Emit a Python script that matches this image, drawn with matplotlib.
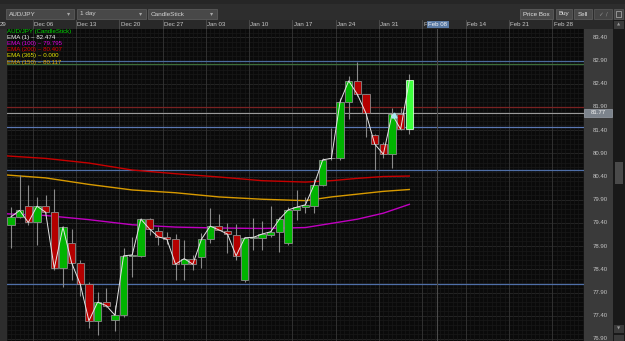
import matplotlib
matplotlib.use('Agg')
import matplotlib.pyplot as plt
from matplotlib.patches import Rectangle
import numpy as np

plt.rcParams['font.family'] = ['Liberation Sans', 'DejaVu Sans']

W, H = 625, 341

# Daily candles AUD/JPY
opens = [79.36, 79.53, 79.76, 79.41, 79.76, 79.63, 78.42, 78.97, 78.54, 78.08,
         77.29, 77.69, 77.30, 77.41, 78.69, 78.69, 79.48, 79.23, 79.10, 79.05,
         78.51, 78.63, 78.66, 79.05, 79.33, 79.23, 79.15, 78.17, 79.08, 79.08,
         79.15, 79.20, 78.97, 79.68, 79.74, 79.77, 80.22, 80.79, 80.79, 82.01,
         82.46, 82.17, 81.29, 81.10, 80.88, 81.74, 81.42]
highs = [79.75, 80.43, 80.22, 79.96, 80.00, 80.13, 79.33, 79.27, 78.59, 78.13,
         77.92, 78.00, 77.63, 78.87, 79.10, 79.51, 79.51, 79.32, 79.20, 79.16,
         79.03, 78.71, 79.18, 79.72, 79.59, 79.40, 79.38, 79.09, 79.51, 79.44,
         79.76, 79.53, 79.75, 80.12, 79.96, 80.34, 80.80, 81.44, 82.10, 82.57,
         82.87, 82.18, 81.32, 81.14, 81.88, 81.88, 82.61]
lows = [78.86, 79.51, 79.35, 78.92, 79.61, 78.39, 78.02, 78.17, 77.83, 77.13,
        76.98, 77.59, 77.08, 77.37, 78.24, 78.67, 79.14, 78.92, 78.95, 78.17,
        78.17, 78.39, 78.43, 78.97, 79.24, 78.75, 78.60, 78.13, 78.82, 78.82,
        79.10, 78.78, 78.92, 79.46, 79.61, 79.61, 80.20, 80.76, 80.76, 81.65,
        82.13, 81.26, 80.54, 80.80, 80.58, 81.40, 81.31]
closes = [79.53, 79.67, 79.41, 79.76, 79.63, 78.42, 79.31, 78.54, 78.08, 77.29,
          77.69, 77.62, 77.41, 78.69, 78.71, 79.48, 79.27, 79.10, 79.05, 78.51,
          78.63, 78.51, 79.05, 79.33, 79.25, 79.16, 78.69, 79.08, 79.09, 79.16,
          79.21, 79.48, 79.68, 79.74, 79.79, 80.22, 80.76, 80.79, 82.01, 82.46,
          82.17, 81.76, 81.10, 80.88, 81.74, 81.42, 82.47]

# moving averages sampled at a few candles
ema_idx = [-1, 4, 9, 14, 19, 24, 29, 34, 37, 40, 43, 46]
ema100 = [79.60, 79.56, 79.47, 79.36, 79.31, 79.29, 79.28, 79.30, 79.39, 79.48, 79.61, 79.80]
ema150 = [80.44, 80.37, 80.23, 80.11, 80.05, 79.96, 79.91, 79.88, 79.96, 80.02, 80.08, 80.12]
ema200 = [80.85, 80.79, 80.69, 80.54, 80.46, 80.39, 80.31, 80.28, 80.31, 80.36, 80.40, 80.41]

# week labels as shown (the Feb 07 one is hidden under the cursor label)
week_labels = ['Nov 29', 'Dec 06', 'Dec 13', 'Dec 20', 'Dec 27', 'Jan 03', 'Jan 10',
               'Jan 17', 'Jan 24', 'Jan 31', 'F', 'Feb 14', 'Feb 21', 'Feb 28']
cursor_date = 'Feb 08'
price_ticks = [83.40, 82.90, 82.40, 81.90, 81.40, 80.90, 80.40, 79.90,
               79.40, 78.90, 78.40, 77.90, 77.40, 76.90]

# drawn horizontal lines (price, colour)
h_levels = [82.89, 82.83, 81.90, 81.46, 80.54, 78.08]
h_colors = ['#4a6a9c', '#3c6e3c', '#7a2222', '#5a78b4', '#4f6fa8', '#4f6fa8']

cursor_price = 81.77
cursor_idx = 49.2
marker_idx, marker_price = 44.2, 81.72

legend = [('AUD/JPY (CandleStick)', '#00d800'),
          ('EMA (1) ~ 82.474', '#f0f0f0'),
          ('EMA (100) ~ 79.795', '#e000e0'),
          ('EMA (200) ~ 80.407', '#e00000'),
          ('EMA (365) ~ 0.000', '#e6e600'),
          ('EMA (150) ~ 80.117', '#e0a800')]


def fx(x):
    return x / W


def fy(y):
    return 1 - y / H


def box(x0, y0, x1, y1, fc, ec='none'):
    fig.add_artist(Rectangle((fx(x0), fy(y1)), fx(x1 - x0), (y1 - y0) / H,
                             transform=fig.transFigure, facecolor=fc,
                             edgecolor=ec, linewidth=0.6))


fig = plt.figure(figsize=(W / 100, H / 100), dpi=100, facecolor='#2d2d2d')

ylo, yhi = 76.855, 83.579
xlo, xhi = -0.46, 66.17
n = len(opens)
x = np.arange(n)

# ---- main chart
ax = fig.add_axes([fx(7), 0, fx(577), 312 / H])
ax.set_facecolor('#0a0a0a')
ax.set_xlim(xlo, xhi)
ax.set_ylim(ylo, yhi)
ax.set_xticks([])
ax.set_yticks([])
for s in ax.spines.values():
    s.set_visible(False)

for p in np.arange(76.8, 83.7, 0.1):
    ax.axhline(p, color='#191919', lw=0.5, zorder=0)
for p in price_ticks:
    ax.axhline(p, color='#262626', lw=0.6, zorder=0)
for v in np.arange(-0.5, 67, 0.5):
    ax.axvline(v, color='#171717', lw=0.5, zorder=0)
week_starts = np.arange(len(week_labels)) * 5 - 2.5
for v in week_starts:
    ax.axvline(v, color='#353535', lw=0.6, zorder=0)

for p, c in zip(h_levels, h_colors):
    ax.axhline(p, color=c, lw=0.9, zorder=1)
ax.axhline(cursor_price, color='#9a9a9a', lw=0.8, zorder=1)
ax.axvline(cursor_idx, color='#4a4a4a', lw=0.8, zorder=1)

ax.plot(ema_idx, ema200, color='#c80000', lw=1.0, zorder=2)
ax.plot(ema_idx, ema150, color='#d89a00', lw=1.0, zorder=2)
ax.plot(ema_idx, ema100, color='#c000c0', lw=1.0, zorder=2)

o = np.array(opens)
c = np.array(closes)
up = c >= o
fills = np.where(up, '#00b400', '#b40000').tolist()
edges = ['#8c8c8c'] * n
fills[-1] = '#3cff3c'
edges[-1] = '#d0ffd0'
ax.vlines(x, lows, highs, color='#8a8a8a', lw=0.8, zorder=3)
ax.bar(x, np.maximum(np.abs(c - o), 0.004), bottom=np.minimum(o, c), width=0.84,
       color=fills, edgecolor=edges, linewidth=0.6, zorder=4)
ax.plot(x, closes, color='#e6e6e6', lw=0.7, zorder=5)
ax.plot([marker_idx], [marker_price], marker='^', ms=3.5, color='#a8e8f4', zorder=6)

# ---- date header
axh = fig.add_axes([0, fy(29), fx(584), 9 / H])
axh.set_facecolor('#292929')
axh.set_xlim(-1.27, xhi)
axh.set_ylim(0, 1)
axh.set_xticks([])
axh.set_yticks([])
for s in axh.spines.values():
    s.set_visible(False)
for v, lab in zip(week_starts, week_labels):
    axh.axvline(v, color='#505050', lw=0.6)
    axh.text(max(v + 0.15, -1.25), 0.45, lab[-2:] if v < 0 else lab, fontsize=4.4,
             color='#c8c8c8', va='center', ha='left', clip_on=True)
axh.add_patch(Rectangle((48.05, 0.08), 2.5, 0.84, facecolor='#5a7aa4', zorder=5))
axh.text(48.2, 0.45, cursor_date, fontsize=4.4, color='#f4f4f4', va='center',
         ha='left', zorder=6)

# ---- price axis panel
axp = fig.add_axes([fx(584), 0, fx(29), 312 / H])
axp.set_facecolor('#3a3a3a')
axp.set_xlim(0, 1)
axp.set_ylim(ylo, yhi)
axp.set_xticks([])
axp.set_yticks([])
for s in axp.spines.values():
    s.set_visible(False)
for p in price_ticks:
    axp.text(0.55, p, f'{p:.2f}', fontsize=4.3, color='#c4c4c4', ha='center', va='center')
axp.add_patch(Rectangle((0.0, cursor_price - 0.085), 0.97, 0.17,
                        facecolor='#7c838c', edgecolor='#9aa0a8', lw=0.5, zorder=5))
axp.text(0.5, cursor_price, f'{cursor_price:.2f}', fontsize=4.3, color='#f2f2f2',
         ha='center', va='center', zorder=6)
box(584, 20, 613, 29, '#292929')

# ---- scrollbar
box(613, 20, 625, 341, '#191919')
box(614, 21, 624, 29, '#3a3a3a')
fig.text(fx(619), fy(25), '\u25b2', fontsize=3, color='#9a9a9a', ha='center',
         va='center', family='DejaVu Sans')
box(615, 162, 623, 184, '#4a4a4a')
box(614, 325, 624, 333, '#3a3a3a')
fig.text(fx(619), fy(329), '\u25bc', fontsize=3, color='#9a9a9a', ha='center',
         va='center', family='DejaVu Sans')
box(614, 335, 624, 341, '#3a3a3a')

# ---- toolbar
box(0, 0, 625, 4, '#262626')
for (x0, x1, lab) in [(6, 74, 'AUD/JPY'), (77, 146, '1 day'), (148, 217, 'CandleStick')]:
    box(x0, 9, x1, 19, '#484848', '#5a5a5a')
    fig.text(fx(x0 + 3), fy(14), lab, fontsize=4.6, color='#d4d4d4', va='center')
    fig.text(fx(x1 - 5), fy(14), '\u25be', fontsize=4.5, color='#a8a8a8',
             ha='center', va='center', family='DejaVu Sans')
for (x0, x1, lab) in [(520, 553, 'Price Box'), (556, 572, 'Buy'), (574, 592, 'Sell')]:
    box(x0, 9, x1, 19, '#4a4a4a', '#5c5c5c')
    fig.text(fx((x0 + x1) / 2), fy(14), lab, fontsize=4.5, color='#e4e4e4',
             ha='center', va='center')
box(594, 9, 612, 19, '#444444', '#555555')
fig.text(fx(603), fy(14), '\u2713 /', fontsize=4.2, color='#8c8c8c',
         ha='center', va='center', family='DejaVu Sans')
box(614, 9, 623, 19, '#444444', '#555555')
box(616, 11, 621, 17, 'none', '#a0a0a0')

# ---- legend
for i, (lab, col) in enumerate(legend):
    fig.text(fx(7), fy(31 + i * 6.25), lab, fontsize=4.4, color=col, va='center')

fig.savefig('out.png', dpi=100, facecolor=fig.get_facecolor())
